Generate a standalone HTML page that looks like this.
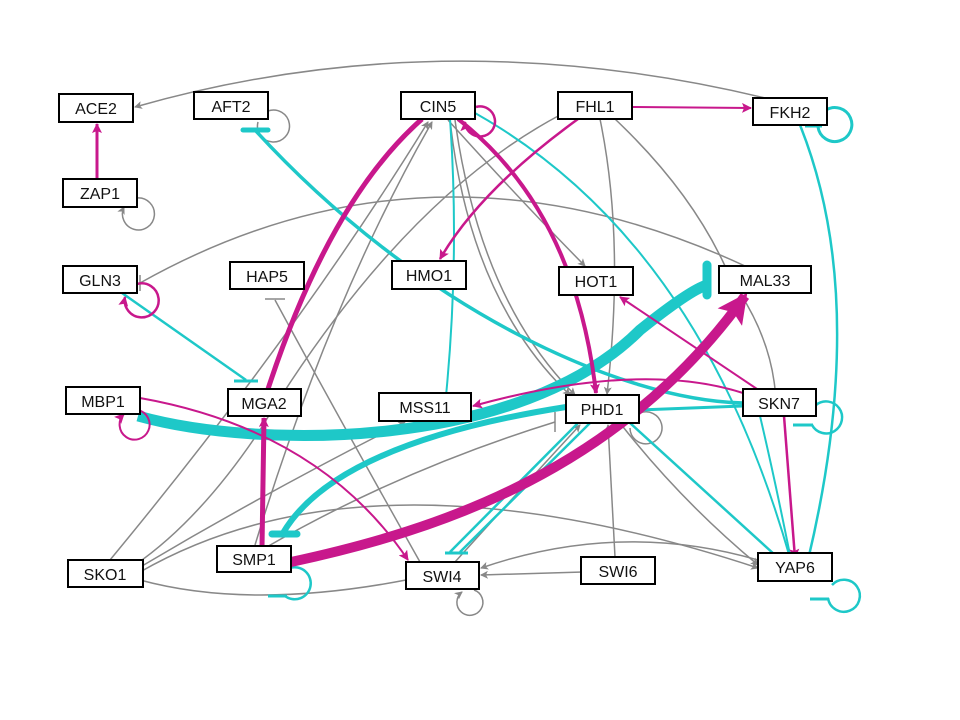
<!DOCTYPE html>
<html><head><meta charset="utf-8"><style>
html,body{margin:0;padding:0;background:#fff;width:960px;height:720px;overflow:hidden}
svg text{font-family:"Liberation Sans",sans-serif;font-size:16px;fill:#111}
</style></head><body>
<svg width="960" height="720" viewBox="0 0 960 720" xmlns="http://www.w3.org/2000/svg">
<defs>
<marker id="ag" markerWidth="8" markerHeight="8" refX="7" refY="4" orient="auto" markerUnits="userSpaceOnUse"><path d="M0,0 L8,4 L0,8 L2,4 z" fill="#888"/></marker>
<marker id="am" markerWidth="10" markerHeight="10" refX="9" refY="5" orient="auto" markerUnits="userSpaceOnUse"><path d="M0,0 L10,5 L0,10 L2,5 z" fill="#c8188c"/></marker>
<marker id="amb" markerWidth="30" markerHeight="30" refX="26" refY="15" orient="auto" markerUnits="userSpaceOnUse"><path d="M0,0 L30,15 L0,30 L6,15 z" fill="#c8188c"/></marker>
</defs>
<g fill="none" stroke="#888" stroke-width="1.5">
<path d="M765 98 Q440 20 135 107" marker-end="url(#ag)"/>
<path d="M268 111 A16 16 0 1 1 258 122"/>
<path d="M137 198 A16 16 0 1 1 124 207" marker-end="url(#ag)"/>
<path d="M745 266 Q430 120 140 283"/><path d="M140 275 L140 291"/>
<path d="M420 562 Q340 420 275 300"/><path d="M265 299 L285 299"/>
<path d="M110 560 Q300 330 428 122" marker-end="url(#ag)"/>
<path d="M255 545 Q330 300 432 122" marker-end="url(#ag)"/>
<path d="M448 120 Q520 200 585 266" marker-end="url(#ag)"/>
<path d="M450 120 Q470 300 570 395" marker-end="url(#ag)"/>
<path d="M455 120 Q480 300 575 395" marker-end="url(#ag)"/>
<path d="M600 119 Q625 240 607 394" marker-end="url(#ag)"/>
<path d="M615 119 Q690 190 725 266"/>
<path d="M740 293 Q770 340 775 389"/>
<path d="M560 115 Q400 200 260 430 Q200 520 135 565"/>
<path d="M640 413 A16 16 0 1 1 630 428"/>
<path d="M620 423 Q680 500 758 565" marker-end="url(#ag)"/>
<path d="M583 572 L481 575" marker-end="url(#ag)"/>
<path d="M615 557 L608 425" marker-end="url(#ag)"/>
<path d="M758 560 Q620 520 481 568" marker-end="url(#ag)"/>
<path d="M140 572 Q370 440 758 568" marker-end="url(#ag)"/>
<path d="M140 580 Q250 610 406 580"/>
<path d="M142 566 Q270 490 405 422" marker-end="url(#ag)"/>
<path d="M474 590 A13 13 0 1 1 462 592" marker-end="url(#ag)"/>
<path d="M455 562 Q520 490 580 425" marker-end="url(#ag)"/>
<path d="M265 548 Q400 470 555 422"/><path d="M555 412 L555 432"/>
</g>
<g fill="none" stroke="#1ec8c8" stroke-linecap="butt">
<path d="M743 403 C620 400 420 310 255 130" stroke-width="3.5"/><path d="M243 130 L268 130" stroke-width="5" stroke-linecap="round"/>
<path d="M826 110 A17 17 0 1 1 818 127" stroke-width="3"/><path d="M805 126 L822 126" stroke-width="3"/>
<path d="M800 125 Q870 300 808 560" stroke-width="2.5"/>
<path d="M450 119 Q460 260 445 406" stroke-width="2"/><path d="M435 408 L456 408" stroke-width="2.5"/>
<path d="M475 113 Q700 240 790 558" stroke-width="2"/>
<path d="M122 293 L246 380" stroke-width="2.5"/><path d="M234 381 L258 381" stroke-width="3"/>
<path d="M138 416 C260 450 520 450 640 330 Q690 290 707 285" stroke-width="11"/>
<path d="M707 265 L707 295" stroke-width="9" stroke-linecap="round"/>
<path d="M566 407 C420 430 320 470 283 533" stroke-width="6"/><path d="M272 534 L297 534" stroke-width="7" stroke-linecap="round"/>
<path d="M743 406 L639 410" stroke-width="3"/>
<path d="M578 423 L450 552" stroke-width="2.5"/><path d="M590 423 L460 552" stroke-width="2.5"/><path d="M445 553 L468 553" stroke-width="3"/>
<path d="M630 423 L775 555" stroke-width="2.5"/><path d="M765 555 L800 555" stroke-width="3"/>
<path d="M760 416 Q775 480 790 555" stroke-width="2"/>
<path d="M816 405 A16 16 0 1 1 812 425" stroke-width="2.5"/><path d="M793 425 L813 425" stroke-width="3"/>
<path d="M290 568 A16 16 0 1 1 285 596" stroke-width="2.5"/><path d="M268 596 L287 596" stroke-width="3"/>
<path d="M832 585 A16 16 0 1 1 828 598" stroke-width="2.5"/><path d="M810 599 L829 599" stroke-width="3"/>
</g>
<g fill="none" stroke="#c8188c">
<path d="M97 179 L97 124" stroke-width="3" marker-end="url(#am)"/>
<path d="M632 107 L751 108" stroke-width="2" marker-end="url(#am)"/>
<path d="M476 107 A15 15 0 1 1 465 122" stroke-width="2.5" marker-end="url(#am)"/>
<path d="M137 284 A17 17 0 1 1 125 297" stroke-width="2.5" marker-end="url(#am)"/>
<path d="M138 410 A15 15 0 1 1 124 414" stroke-width="2" marker-end="url(#am)"/>
<path d="M262 547 L264 418" stroke-width="5" marker-end="url(#am)"/>
<path d="M268 389 Q330 200 422 119" stroke-width="5"/>
<path d="M458 119 Q575 210 596 393" stroke-width="4" marker-end="url(#am)"/>
<path d="M578 119 Q480 190 440 259" stroke-width="2.5" marker-end="url(#am)"/>
<path d="M757 389 L620 297" stroke-width="2" marker-end="url(#am)"/>
<path d="M743 393 Q640 360 473 406" stroke-width="2" marker-end="url(#am)"/>
<path d="M140 398 Q320 430 408 560" stroke-width="2" marker-end="url(#am)"/>
<path d="M291 562 C440 530 620 470 745 296" stroke-width="10" marker-end="url(#amb)"/>
<path d="M784 416 L795 558" stroke-width="2.5" marker-end="url(#am)"/>
</g>
<g stroke="#000" stroke-width="2" fill="#fff">
<rect x="59" y="94" width="74" height="28"/><rect x="194" y="92" width="74" height="27"/>
<rect x="401" y="92" width="74" height="27"/><rect x="558" y="92" width="74" height="27"/>
<rect x="753" y="98" width="74" height="27"/><rect x="63" y="179" width="74" height="28"/>
<rect x="63" y="266" width="74" height="27"/><rect x="230" y="262" width="74" height="27"/>
<rect x="392" y="261" width="74" height="28"/><rect x="559" y="267" width="74" height="28"/>
<rect x="719" y="266" width="92" height="27"/><rect x="66" y="387" width="74" height="27"/>
<rect x="228" y="389" width="73" height="27"/><rect x="379" y="393" width="92" height="28"/>
<rect x="566" y="395" width="73" height="28"/><rect x="743" y="389" width="73" height="27"/>
<rect x="68" y="560" width="75" height="27"/><rect x="217" y="546" width="74" height="26"/>
<rect x="406" y="562" width="73" height="27"/><rect x="581" y="557" width="74" height="27"/>
<rect x="758" y="553" width="74" height="28"/>
</g>
<g text-anchor="middle">
<text x="96" y="114">ACE2</text><text x="231" y="112">AFT2</text><text x="438" y="112">CIN5</text>
<text x="595" y="112">FHL1</text><text x="790" y="118">FKH2</text><text x="100" y="199">ZAP1</text>
<text x="100" y="286">GLN3</text><text x="267" y="282">HAP5</text><text x="429" y="281">HMO1</text>
<text x="596" y="287">HOT1</text><text x="765" y="286">MAL33</text><text x="103" y="407">MBP1</text>
<text x="264" y="409">MGA2</text><text x="425" y="413">MSS11</text><text x="602" y="415">PHD1</text>
<text x="779" y="409">SKN7</text><text x="105" y="580">SKO1</text><text x="254" y="565">SMP1</text>
<text x="442" y="582">SWI4</text><text x="618" y="577">SWI6</text><text x="795" y="573">YAP6</text>
</g>
</svg>
</body></html>
